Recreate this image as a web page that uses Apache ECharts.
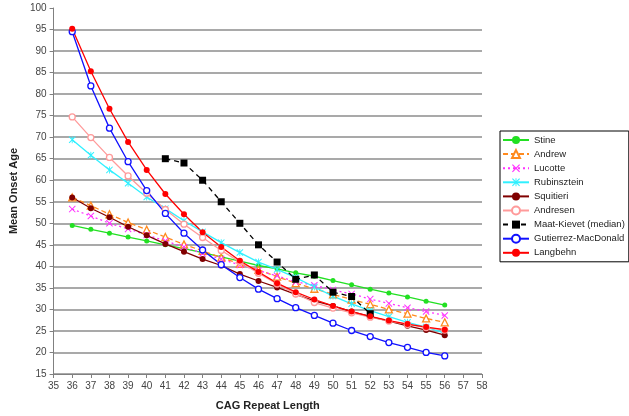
<!DOCTYPE html>
<html>
<head>
<meta charset="utf-8">
<script src="https://cdn.jsdelivr.net/npm/echarts@6/dist/echarts.min.js"></script>
<style>
  html, body { margin: 0; padding: 0; background: #fff; }
  #chart { width: 629px; height: 416px; }
</style>
</head>
<body>
<div id="chart"></div>
<script>
// CAG repeat lengths and mean onset age per study
const cag = [36, 37, 38, 39, 40, 41, 42, 43, 44, 45, 46, 47, 48, 49, 50, 51, 52, 53, 54, 55, 56]
const stine = [49.5, 48.6, 47.7, 46.8, 45.9, 45.0, 44.1, 43.2, 42.2, 41.2, 40.2, 39.4, 38.5, 37.7, 36.7, 35.7, 34.7, 33.8, 32.9, 31.9, 31.0]
const andrew = [56.0, 54.1, 52.1, 50.2, 48.5, 46.8, 45.1, 43.6, 42.0, 40.6, 39.2, 37.6, 36.1, 34.8, 33.5, 32.3, 31.2, 30.0, 29.0, 27.9, 27.0]
const lucotte = [53.3, 51.7, 50.0, 48.7, 47.3, 45.9, 44.5, 43.0, 41.7, 40.3, 39.0, 37.8, 36.4, 35.6, 34.5, 33.6, 32.4, 31.4, 30.4, 29.5, 28.6]
const rubinsztein = [69.4, 65.8, 62.4, 59.3, 56.1, 53.4, 50.6, 48.0, 45.5, 43.2, 41.0, 39.3, 37.4, 35.2, 33.1, 31.3, 29.7, 28.3, 27.0, 25.9, 24.5]
const squitieri = [56.0, 53.5, 51.4, 49.2, 47.2, 45.2, 43.4, 41.7, 40.2, 38.2, 36.6, 35.1, 33.5, 32.0, 30.8, 29.5, 28.3, 27.3, 26.2, 25.2, 24.0]
const andresen = [74.7, 69.9, 65.3, 61.0, 57.0, 53.2, 49.8, 46.7, 43.7, 41.0, 38.4, 35.9, 33.6, 31.6, 30.3, 29.2, 28.2, 27.3, 26.5, 25.8, 25.2]
const maatCag = [41, 42, 43, 44, 45, 46, 47, 48, 49, 50, 51, 52]
const maatKievet = [65, 64, 60, 55, 50, 45, 41, 37, 38, 34, 33, 29]
const gutierrez = [94.5, 81.9, 72.1, 64.3, 57.6, 52.3, 47.7, 43.8, 40.4, 37.4, 34.7, 32.5, 30.4, 28.6, 26.8, 25.1, 23.7, 22.3, 21.2, 20.0, 19.2]
const langbehn = [95.2, 85.3, 76.6, 68.9, 62.4, 56.8, 52.1, 47.9, 44.5, 41.3, 38.7, 36.1, 34.0, 32.3, 30.8, 29.5, 28.4, 27.4, 26.6, 25.9, 25.3]

const crossPath = 'path://M0,1L1,0L5,4L9,0L10,1L6,5L10,9L9,10L5,6L1,10L0,9L4,5Z'
const starPath = 'path://M0,1L1,0L5,4L9,0L10,1L6,5L10,9L9,10L5,6L1,10L0,9L4,5Z M4.4,0H5.6V10H4.4Z'

const pairs = (xs, ys) => xs.map((x, i) => [x, ys[i]])

const mk = (name, xs, ys, color, symbol, opts = {}) => ({
  name,
  type: 'line',
  data: pairs(xs, ys),
  symbol,
  symbolSize: opts.size || 6,
  showSymbol: true,
  lineStyle: { color, width: 1.3, type: opts.dash || 'solid' },
  itemStyle: { color: opts.fill || color, borderColor: color, borderWidth: opts.fill ? 1.3 : 0 },
  animation: false,
})

const chart = echarts.init(document.getElementById('chart'))

chart.setOption({
  backgroundColor: '#fff',
  textStyle: { fontFamily: 'Liberation Sans, Arial, sans-serif' },
  grid: { left: 40, right: 147, top: 8, bottom: 38.5 },
  legend: {
    orient: 'vertical',
    left: 500,
    top: 131,
    padding: [4, 4, 4, 2],
    itemGap: 4.1,
    itemWidth: 26,
    itemHeight: 10,
    borderColor: '#000',
    borderWidth: 1,
    backgroundColor: '#fff',
    textStyle: { fontSize: 9.5, color: '#222' },
  },
  xAxis: {
    type: 'value',
    min: 35,
    max: 58,
    interval: 1,
    name: 'CAG Repeat Length',
    nameLocation: 'middle',
    nameGap: 26,
    nameTextStyle: { fontWeight: 'bold', fontSize: 11, color: '#222' },
    axisLine: { lineStyle: { color: '#808080', width: 1 } },
    axisTick: { length: 4, lineStyle: { color: '#808080' } },
    axisLabel: { fontSize: 10, color: '#444', margin: 7 },
    splitLine: { show: false },
  },
  yAxis: {
    type: 'value',
    min: 15,
    max: 100,
    interval: 5,
    name: 'Mean Onset Age',
    nameLocation: 'middle',
    nameGap: 29,
    nameTextStyle: { fontWeight: 'bold', fontSize: 11, color: '#222' },
    axisLine: { show: true, lineStyle: { color: '#808080', width: 1 } },
    axisTick: { show: true, length: 4, lineStyle: { color: '#808080' } },
    axisLabel: { fontSize: 10, color: '#444', margin: 7 },
    splitLine: { show: true, showMaxLine: false, lineStyle: { color: '#8c8c8c', width: 1.5 } },
  },
  series: [
    mk('Stine', cag, stine, '#22e022', 'circle', { size: 5 }),
    mk('Andrew', cag, andrew, '#ff8a1e', 'triangle', { dash: [5, 3], fill: '#fff', size: 7 }),
    mk('Lucotte', cag, lucotte, '#ff30ff', crossPath, { dash: [2, 3], size: 7 }),
    mk('Rubinsztein', cag, rubinsztein, '#30f0ff', starPath, { size: 7 }),
    mk('Squitieri', cag, squitieri, '#800000', 'circle', { size: 6 }),
    mk('Andresen', cag, andresen, '#ff9a9a', 'circle', { fill: '#fff', size: 6 }),
    mk('Maat-Kievet (median)', maatCag, maatKievet, '#000', 'rect', { dash: [5, 4], size: 7 }),
    mk('Gutierrez-MacDonald', cag, gutierrez, '#1010ff', 'circle', { fill: '#fff', size: 6 }),
    mk('Langbehn', cag, langbehn, '#ff0000', 'circle', { size: 6 }),
  ],
})
</script>
</body>
</html>
